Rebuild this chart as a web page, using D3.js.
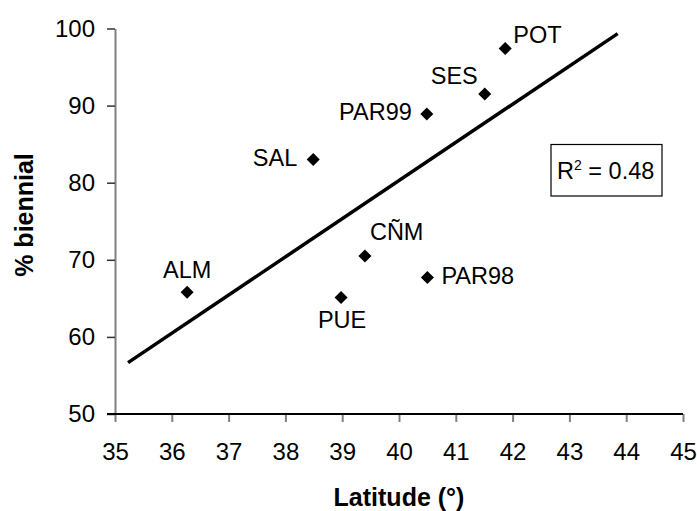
<!DOCTYPE html>
<html>
<head>
<meta charset="utf-8">
<script src="https://cdn.jsdelivr.net/npm/d3@7"></script>
<style>
  body { margin: 0; background: #fff; }
  svg text { font-family: "Liberation Sans", Arial, sans-serif; fill: #000; }
</style>
</head>
<body>
<div id="wrapper"></div>
<script>
// data
const sites = ["ALM", "SAL", "PUE", "CÑM", "PAR98", "PAR99", "SES", "POT"]
const latitude = [36.27, 38.49, 38.98, 39.40, 40.50, 40.49, 41.51, 41.87]
const biennial = [65.8, 83.0, 65.1, 70.5, 67.7, 88.9, 91.5, 97.4]
const xTicks = [35, 36, 37, 38, 39, 40, 41, 42, 43, 44, 45]
const yTicks = [50, 60, 70, 80, 90, 100]
const trendExtent = [35.23, 43.85]
const rSquaredLabel = "0.48"

const dataset = sites.map((s, i) => ({ site: s, lat: latitude[i], pct: biennial[i] }))

// label placement around each point
const labelPos = {
  "ALM":   { dx: 0,   dy: -14, anchor: "middle" },
  "SAL":   { dx: -16, dy: 6,   anchor: "end" },
  "PUE":   { dx: 1,   dy: 30,  anchor: "middle" },
  "CÑM":   { dx: 5,   dy: -16, anchor: "start" },
  "PAR98": { dx: 14,  dy: 6,   anchor: "start" },
  "PAR99": { dx: -15, dy: 6,   anchor: "end" },
  "SES":   { dx: -7,  dy: -10, anchor: "end" },
  "POT":   { dx: 8,   dy: -6,  anchor: "start" },
}

let dimensions = {
  width: 697,
  height: 511,
  margin: { top: 28.5, right: 14, bottom: 97, left: 115 },
}
dimensions.boundedWidth = dimensions.width - dimensions.margin.left - dimensions.margin.right
dimensions.boundedHeight = dimensions.height - dimensions.margin.top - dimensions.margin.bottom

const wrapper = d3.select("#wrapper")
  .append("svg")
  .attr("width", dimensions.width)
  .attr("height", dimensions.height)

const bounds = wrapper.append("g")
  .attr("transform", `translate(${dimensions.margin.left},${dimensions.margin.top})`)

const xScale = d3.scaleLinear()
  .domain([35, 45])
  .range([0, dimensions.boundedWidth])

const yScale = d3.scaleLinear()
  .domain([50, 100])
  .range([dimensions.boundedHeight, 0])

// axes
const yAxis = bounds.append("g")
  .call(d3.axisLeft(yScale).tickValues(yTicks).tickSize(8).tickSizeOuter(0).tickPadding(12))
yAxis.select(".domain").attr("stroke", "#808080").attr("stroke-width", 2)
yAxis.selectAll(".tick line").attr("stroke", "#333").attr("stroke-width", 1.5)
yAxis.selectAll("text").style("font-size", "24px").attr("fill", "#000")

const xAxis = bounds.append("g")
  .attr("transform", `translate(0,${dimensions.boundedHeight})`)
  .call(d3.axisBottom(xScale).tickValues(xTicks).tickSize(8).tickSizeOuter(0).tickPadding(21))
xAxis.select(".domain").remove()
xAxis.append("line")
  .attr("x1", -8).attr("x2", dimensions.boundedWidth)
  .attr("stroke", "#000").attr("stroke-width", 2)
xAxis.selectAll(".tick line").attr("stroke", "#808080").attr("stroke-width", 2)
xAxis.selectAll("text").style("font-size", "24px").attr("fill", "#000")

// trend line from least squares fit
const mx = d3.mean(dataset, d => d.lat)
const my = d3.mean(dataset, d => d.pct)
const slope = d3.sum(dataset, d => (d.lat - mx) * (d.pct - my)) / d3.sum(dataset, d => (d.lat - mx) ** 2)
const fit = x => my + slope * (x - mx)

bounds.append("line")
  .attr("x1", xScale(trendExtent[0])).attr("y1", yScale(fit(trendExtent[0])))
  .attr("x2", xScale(trendExtent[1])).attr("y2", yScale(fit(trendExtent[1])))
  .attr("stroke", "#000")
  .attr("stroke-width", 3.5)

// points
const diamond = d3.symbol(d3.symbolSquare, 85)
bounds.selectAll("path.pt")
  .data(dataset)
  .join("path")
  .attr("class", "pt")
  .attr("d", diamond)
  .attr("transform", d => `translate(${xScale(d.lat)},${yScale(d.pct)}) rotate(45)`)
  .attr("fill", "#000")

bounds.selectAll("text.lbl")
  .data(dataset)
  .join("text")
  .attr("class", "lbl")
  .attr("x", d => xScale(d.lat) + labelPos[d.site].dx)
  .attr("y", d => yScale(d.pct) + labelPos[d.site].dy)
  .attr("text-anchor", d => labelPos[d.site].anchor)
  .style("font-size", "23.5px")
  .text(d => d.site)

// R² box
const box = wrapper.append("g").attr("transform", "translate(551,144.5)")
box.append("rect")
  .attr("width", 111).attr("height", 51.5)
  .attr("fill", "#fff").attr("stroke", "#000").attr("stroke-width", 1.2)
const rt = box.append("text")
  .attr("x", 6).attr("y", 34)
  .style("font-size", "23.5px")
rt.append("tspan").text("R")
rt.append("tspan").attr("dy", -9).style("font-size", "14px").text("2")
rt.append("tspan").attr("dy", 9).text(` = ${rSquaredLabel}`)

// axis titles
wrapper.append("text")
  .attr("x", dimensions.margin.left + dimensions.boundedWidth / 2)
  .attr("y", 506)
  .attr("text-anchor", "middle")
  .style("font-size", "25px")
  .style("font-weight", "bold")
  .text("Latitude (°)")

wrapper.append("text")
  .attr("transform", "translate(33,215) rotate(-90)")
  .attr("text-anchor", "middle")
  .style("font-size", "25px")
  .style("font-weight", "bold")
  .text("% biennial")
</script>
</body>
</html>
